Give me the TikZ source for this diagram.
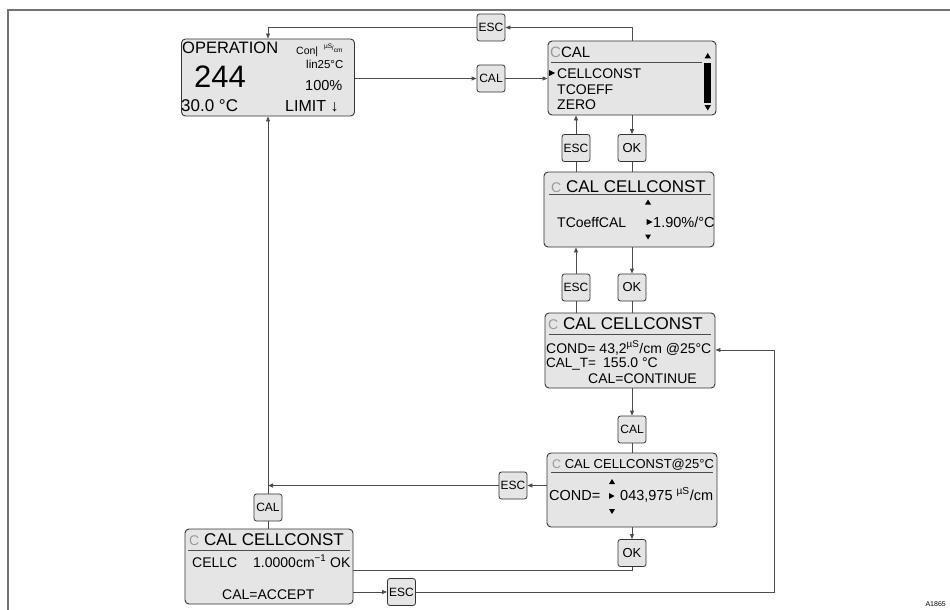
\documentclass[tikz,border=0pt]{standalone}
\usepackage{fontspec}
\setmainfont{Liberation Sans}
\usetikzlibrary{arrows.meta,calc}
\newcommand\fsz[1]{\fontsize{#1}{#1}\selectfont}
\newcommand\gC{{\color{black!40}C}}
\tikzset{
  lcd/.style={draw=black!80, fill=black!10, rounded corners=4pt, line width=0.9pt, inner sep=0},
  key/.style={draw=black!80, fill=black!10, rounded corners=2.5pt, minimum width=28pt, minimum height=27pt, inner sep=0, line width=0.8pt, font=\fsz{12}},
  conn/.style={draw=black!70, line width=0.8pt},
  arr/.style={conn, -{Triangle[length=5pt,width=4pt]}},
  txt/.style={anchor=base west, inner sep=0, text=black},
  uline/.style={draw=black!70, line width=0.8pt},
}
\begin{document}
\begin{tikzpicture}[x=1pt,y=-1pt]
\useasboundingbox (0,0) rectangle (950,610);
\draw[black!55, line width=1.5pt] (950,10) -- (8,10) -- (8,610);

% LCD boxes
\node[lcd, minimum width=173pt, minimum height=77pt] (op) at (268,77.5) {};
\node[lcd, minimum width=168pt, minimum height=74pt] (ccal) at (632,78) {};
\node[lcd, minimum width=170pt, minimum height=75pt] (tco) at (629,209.5) {};
\node[lcd, minimum width=170pt, minimum height=75pt] (cond) at (630,350.5) {};
\node[lcd, minimum width=170pt, minimum height=74pt] (c25) at (632,490) {};
\node[lcd, minimum width=168pt, minimum height=75pt] (cc) at (269,566.5) {};

% keys
\node[key] (esc1) at (491,27.5) {ESC};
\node[key] (cal1) at (491,78.5) {CAL};
\node[key] (esc2) at (576,148) {ESC};
\node[key, font=\fsz{13}] (ok1) at (632,148) {OK};
\node[key] (esc3) at (576,287.5) {ESC};
\node[key, font=\fsz{13}] (ok2) at (632,287.5) {OK};
\node[key] (cal2) at (632,429.5) {CAL};
\node[key] (esc4) at (513,485.5) {ESC};
\node[key, font=\fsz{13}] (ok3) at (632,553) {OK};
\node[key] (cal3) at (268,507.5) {CAL};
\node[key] (esc5) at (401.5,592) {ESC};

% connectors
\draw[arr] (ccal.north) |- (esc1.east);
\draw[arr] (esc1.west) -| (op.north);
\draw[arr] (op.east |- cal1) -- (cal1.west);
\draw[arr] (cal1.east) -- (ccal.west |- cal1);
\draw[arr] (esc2.north) -- (esc2 |- ccal.south);
\draw[arr] (ccal.south -| ok1) -- (ok1.north);
\draw[conn] (esc2.south) -- (esc2 |- tco.north);
\draw[conn] (ok1.south) -- (ok1 |- tco.north);
\draw[arr] (esc3.north) -- (esc3 |- tco.south);
\draw[arr] (tco.south -| ok2) -- (ok2.north);
\draw[conn] (esc3.south) -- (esc3 |- cond.north);
\draw[conn] (ok2.south) -- (ok2 |- cond.north);
\draw[arr] (cond.south -| cal2) -- (cal2.north);
\draw[conn] (cal2.south) -- (cal2 |- c25.north);
\draw[arr] (c25.west |- esc4) -- (esc4.east);
\draw[arr] (esc4.west) -- (op.south |- esc4);
\draw[arr] (cal3.north) -- (cal3 |- op.south);
\draw[arr] (c25.south -| ok3) -- (ok3.north);
\coordinate (j1) at (632,570);
\draw[conn] (ok3.south) -- (j1) -- (cc.east |- j1);
\draw[conn] (cal3.south) -- (cal3 |- cc.north);
\draw[arr] (cc.east |- esc5) -- (esc5.west);
\coordinate (r1) at (774,592);
\coordinate (r2) at (774,350);
\draw[arr] (esc5.east) -- (r1) -- (r2) -- (cond.east |- r2);

% OPERATION display
\node[txt, font=\fsz{16.5}] (t1) at (182,54) {OPERATION};
\node[txt, font=\fsz{10.5}] (t2) at (296,55) {Con|};
\node[txt, font=\fsz{6.5}] (t3) at (324,51) {\raisebox{2.5pt}{µS}\kern-0.3pt/\raisebox{-1.5pt}{cm}};
\node[txt, font=\fsz{11.5}] (t4) at (306,68) {lin25°C};
\node[txt, font=\fsz{31}] (t5) at (194,87) {244};
\node[txt, font=\fsz{14.5}] (t6) at (305,90) {100\%};
\node[txt, font=\fsz{17}] (t7) at (181,111) {30.0 °C};
\node[txt, font=\fsz{16}] (t8) at (285,111) {LIMIT ↓};

% CCAL display
\node[txt, font=\fsz{15}] (t9) at (550,57) {\gC CAL};
\draw[uline] (551,62) -- (702,62);
\fill (549,70) -- (549,76) -- (555,73) -- cycle;
\node[txt, font=\fsz{14}] (t10) at (557,78) {CELLCONST};
\node[txt, font=\fsz{14}] (t11) at (557,94) {TCOEFF};
\node[txt, font=\fsz{14}] (t12) at (557,109) {ZERO};
\fill (704.5,58.5) -- (711,58.5) -- (707.75,53) -- cycle;
\fill (704,63) rectangle (711,103);
\fill (704.5,105) -- (711,105) -- (707.75,110.5) -- cycle;

% TCoeff display
\node[txt, font=\fsz{17}] (t13) at (551,192) {{\fsz{14}\gC} CAL CELLCONST};
\draw[uline] (549,194.5) -- (711,194.5);
\node[txt, font=\fsz{14}] (t14) at (557,227) {TCoeffCAL};
\fill (645,204.5) -- (651,204.5) -- (648,199.5) -- cycle;
\fill (646.5,219) -- (646.5,225) -- (652.5,222) -- cycle;
\node[txt, font=\fsz{14.5}] (t15) at (653,227) {1.90\%/°C};
\fill (645,234.5) -- (651,234.5) -- (648,239.5) -- cycle;

% COND display
\node[txt, font=\fsz{17}] (t16) at (548,329) {{\fsz{14}\gC} CAL CELLCONST};
\draw[uline] (549,334.5) -- (711,334.5);
\node[txt, font=\fsz{14}] (t17) at (546,353) {COND= 43,2\textsuperscript{µS}/cm @25°C};
\node[txt, font=\fsz{13.5}] (t18) at (546,367) {CAL\_T=};
\node[txt, font=\fsz{14}] (t19) at (603,367) {155.0 °C};
\node[txt, font=\fsz{14}] (t20) at (588,383) {CAL=CONTINUE};

% CELLCONST@25 display
\node[txt, font=\fsz{13}] (t21) at (552,468) {{\fsz{12.5}\gC} CAL CELLCONST@25°C};
\draw[uline] (551,472.5) -- (713,472.5);
\fill (609,484) -- (615,484) -- (612,479) -- cycle;
\node[txt, font=\fsz{14.5}] (t22) at (549,500) {COND=};
\fill (609,493) -- (609,499) -- (614.5,496) -- cycle;
\node[txt, font=\fsz{14.5}] (t23) at (620,500) {043,975 \textsuperscript{µS}/cm};
\fill (609,509) -- (615,509) -- (612,514) -- cycle;

% CAL CELLCONST bottom display
\node[txt, font=\fsz{17}] (t24) at (189,545) {{\fsz{14}\gC} CAL CELLCONST};
\draw[uline] (188,550.5) -- (350,550.5);
\node[txt, font=\fsz{14}] (t25) at (192,567) {CELLC};
\node[txt, font=\fsz{14}] (t26) at (253,567) {1.0000cm\textsuperscript{−1} OK};
\node[txt, font=\fsz{14}] (t27) at (222,599) {CAL=ACCEPT};

\node[anchor=base east, inner sep=0, font=\fsz{7}] (lbl) at (946,606) {A1865};
\end{tikzpicture}
\end{document}
